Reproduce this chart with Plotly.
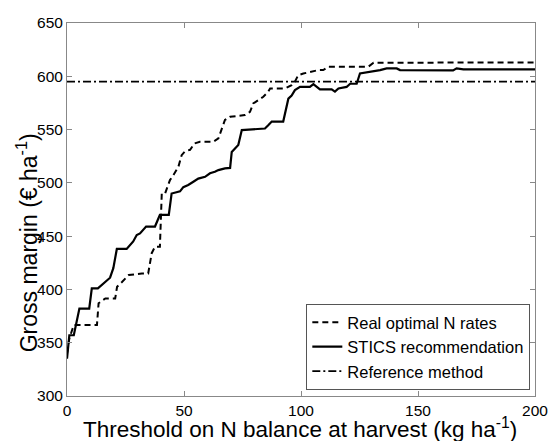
import plotly.graph_objects as go

# Threshold on N balance at harvest (kg/ha) and gross margin (€/ha)
real_x = [0, 1, 2.9, 12.8, 13.5, 14.3, 16.4, 20.6, 21.4, 23.5, 26.4, 32, 34.7, 36.2, 37.6, 39.7,
          40.5, 41.9, 44, 45.4, 47.6, 49, 50.4, 52.6, 54.5, 56.8, 62.5, 64.7, 66.1, 67.5, 69.7,
          76, 78.2, 79.6, 81.7, 83.9, 86, 86.8, 93.2, 96, 97.4, 98.8, 101, 103.8, 107.4, 109.5,
          111.7, 128.8, 131, 200]
real_y = [340, 354, 366.6, 366.6, 387, 388.5, 391.6, 391.6, 402.5, 407, 413.5, 415, 415, 434, 440, 440,
          490, 490, 502.6, 507, 515, 526, 529.5, 531, 537, 538.6, 538.6, 541.7, 551, 559, 562,
          563.6, 566.7, 574.5, 577.5, 580.8, 585.6, 588.6, 588.6, 591.7, 595, 601, 602.6, 604.3, 605.8, 605.8,
          609, 609, 612.7, 613]

stics_x = [0, 1, 2.9, 4.3, 5.3, 9.5, 10.6, 13.2, 15.7, 18.4, 19.8, 21.3, 25.5, 28.3, 29.8, 31.2,
           33.8, 37.6, 39.7, 43.5, 44.7, 48.3, 49.7, 51.8, 54, 56.1, 59, 61.1, 63.2, 64.7, 67.5,
           69.7, 70.4, 71.8, 73.2, 74.7, 84.6, 86, 87.5, 92.4, 94.6, 96, 97.4, 99.6, 103.8, 105.3,
           106.7, 108.1, 113.1, 114.5, 116, 119.5, 121, 123.8, 125.2, 128, 131, 133.8, 136.6, 140.9,
           142.3, 165, 166.5, 169.4, 200]
stics_y = [335, 357, 357, 370, 382, 382, 401, 401, 406, 411, 420, 438, 438, 445, 451, 452.5,
           459, 459, 470, 470, 490, 492, 496, 498, 501, 504, 505.7, 509, 510.4, 512, 513.6,
           514, 529, 532, 535.5, 549.5, 551, 554, 557.5, 557.5, 579, 582, 587, 590, 590, 592.7,
           590, 587.7, 587.7, 585.6, 588.6, 590, 593, 593, 602.6, 603.6, 605, 605.8, 607.4, 607.4,
           605.8, 605.5, 607.4, 606.5, 606.5]

ref_x = [0, 200]
ref_y = [595, 595]

x_ticks = [0, 50, 100, 150, 200]
y_ticks = [300, 350, 400, 450, 500, 550, 600, 650]

x_title = "Threshold on N balance at harvest (kg ha<sup>-1</sup>)"
y_title = "Gross margin (€ ha<sup>-1</sup>)"

FONT = "Liberation Sans, Arial, sans-serif"

fig = go.Figure()
fig.add_trace(go.Scatter(x=real_x, y=real_y, mode="lines", name="Real optimal N rates",
                         line=dict(color="black", width=2, dash="6px,4px")))
fig.add_trace(go.Scatter(x=stics_x, y=stics_y, mode="lines", name="STICS recommendation",
                         line=dict(color="black", width=2.2)))
fig.add_trace(go.Scatter(x=ref_x, y=ref_y, mode="lines", name="Reference method",
                         line=dict(color="black", width=1.6, dash="8px,3px,2px,3px")))

axis_common = dict(showline=True, linecolor="#888888", linewidth=1, mirror="ticks",
                   ticks="inside", ticklen=5, tickcolor="#888888", showgrid=False,
                   zeroline=False, automargin=False,
                   tickfont=dict(family=FONT, size=15.5, color="black"))

fig.update_layout(
    template="none",
    width=549, height=441,
    margin=dict(l=67, r=14, t=23, b=45, autoexpand=False),
    paper_bgcolor="white", plot_bgcolor="white",
    font=dict(family=FONT, color="black"),
    xaxis=dict(range=[0, 200], tickvals=x_ticks, **axis_common),
    yaxis=dict(range=[300, 650], tickvals=y_ticks, **axis_common),
    legend=dict(x=0.99, y=0.016, xanchor="right", yanchor="bottom",
                bgcolor="white", bordercolor="#555555", borderwidth=1,
                font=dict(size=16.5), tracegroupgap=0, itemwidth=30),
    showlegend=True,
    annotations=[
        dict(text=x_title, xref="paper", yref="paper", x=0.498, y=-0.126,
             xanchor="center", yanchor="bottom", showarrow=False, borderpad=0,
             font=dict(family=FONT, size=22.5, color="black")),
        dict(text=y_title, xref="paper", yref="paper", x=-0.085, y=0.41,
             xanchor="center", yanchor="middle", showarrow=False, textangle=-90,
             font=dict(family=FONT, size=23, color="black")),
    ],
)

fig.write_html("out.html", config={"displayModeBar": False},
               post_script="document.body.style.margin='0';document.body.style.overflow='hidden';")
